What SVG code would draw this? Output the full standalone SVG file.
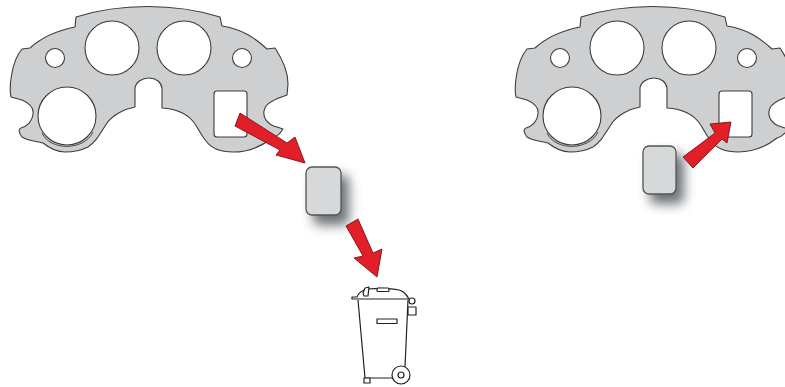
<svg xmlns="http://www.w3.org/2000/svg" width="785" height="387" viewBox="0 0 785 387">
<style>
.panel{fill:#cdcfd1;stroke:#3c3c3c;stroke-width:1.1;stroke-linejoin:round}
.line{fill:none;stroke:#3c3c3c;stroke-width:.9}
.hole{fill:#fff;stroke:#3c3c3c;stroke-width:1.1}
.tag{fill:#d6d8da;stroke:#555;stroke-width:1.3}
.shadow{fill:#3a3f45;opacity:.75;filter:url(#blur)}
.arrow{fill:#e21e26;stroke:#7a1216;stroke-width:.9;stroke-linejoin:round}
.bin{fill:#fff;stroke:#222;stroke-width:1.2;stroke-linejoin:round}
</style>
<defs>
<filter id="blur" x="-60%" y="-60%" width="220%" height="220%"><feGaussianBlur stdDeviation="6"/></filter>
<path id="plate" d="M76 17C120 3 175 3 220 17L222 26C242 29 255 38 267 49L275 48C283 60 288 72 288 84L287 95C278 98 267 102 265 108C261 117 268 125 277 127L283 129C280 134 276 137 272 138C262 146 248 152 233 152C220 152 211 148 206 141C200 134 198 128 195 124C189 115 178 109 162 108L162 88C161 82 156 78 149 78C142 78 136 82 135 88L135 107C124 109 113 115 107 123C100 134 95 143 88 147C80 151 72 152 65 152C56 152 48 147 43 143C36 141 28 141 22 137C19 133 18 129 21 128C26 127 32 122 33 114C34 107 29 103 22 100L11 97C9 88 11 62 22 49L30 48C42 37 60 30 75 27Z"/>
</defs>
<g id="left-plate">
<use href="#plate" class="panel"/>
<circle class="hole" cx="112" cy="48" r="27"/>
<circle class="hole" cx="184" cy="48" r="27"/>
<circle class="hole" cx="55" cy="58" r="9.500"/>
<circle class="hole" cx="242" cy="58" r="9.500"/>
<circle class="hole" cx="67" cy="116" r="29"/>
<path class="line" d="M42 133C50 151 84 151 93 132"/>
<rect class="hole" x="214" y="91" width="33" height="46" rx="3"/>
</g>
<g id="right-plate" transform="translate(505 0)">
<use href="#plate" class="panel"/>
<circle class="hole" cx="112" cy="48" r="27"/>
<circle class="hole" cx="184" cy="48" r="27"/>
<circle class="hole" cx="55" cy="58" r="9.500"/>
<circle class="hole" cx="242" cy="58" r="9.500"/>
<circle class="hole" cx="67" cy="116" r="29"/>
<path class="line" d="M42 133C50 151 84 151 93 132"/>
<rect class="hole" x="214" y="91" width="33" height="46" rx="3"/>
</g>
<g id="removed-tag">
<rect class="shadow" x="313" y="175" width="36" height="50" rx="6"/>
<rect class="tag" x="306" y="167" width="35" height="48" rx="6"/>
</g>
<g id="new-tag">
<rect class="shadow" x="650" y="154" width="34" height="50" rx="6"/>
<rect class="tag" x="643" y="146" width="33" height="48" rx="6"/>
</g>
<g id="connectors">
<path class="arrow" d="M240 113L287 143L295 137L305 163L276 155L280 150L235 126Z"/>
<path class="arrow" d="M346 226L358 219L373 253L382 249L377 277L354 258L363 256Z"/>
<path class="arrow" d="M683 157L715 133L710 124L731 122L727 143L722 139L693 168Z"/>
</g>
<g id="bin">
<path class="bin" d="M358 300L365 378L393 378M408 300L405 367"/>
<path class="bin" d="M352 299L409 299C405 292 402 291 399 290C390 288 380 288 367 289C360 291 358 294 357 297L352 297Z"/>
<path class="bin" d="M363 293L365 288L369 287L368 296L364 296Z"/>
<rect class="bin" x="377" y="288" width="12" height="3.500" rx="1"/>
<rect class="bin" x="377" y="319" width="20" height="4.500"/>
<circle class="bin" cx="412" cy="301" r="3"/>
<rect class="bin" x="408" y="307" width="8" height="8"/>
<rect class="bin" x="364" y="378" width="6" height="5"/>
<circle class="bin" cx="401" cy="375" r="9"/>
<circle class="bin" cx="401" cy="375" r="3"/>
</g>
</svg>
